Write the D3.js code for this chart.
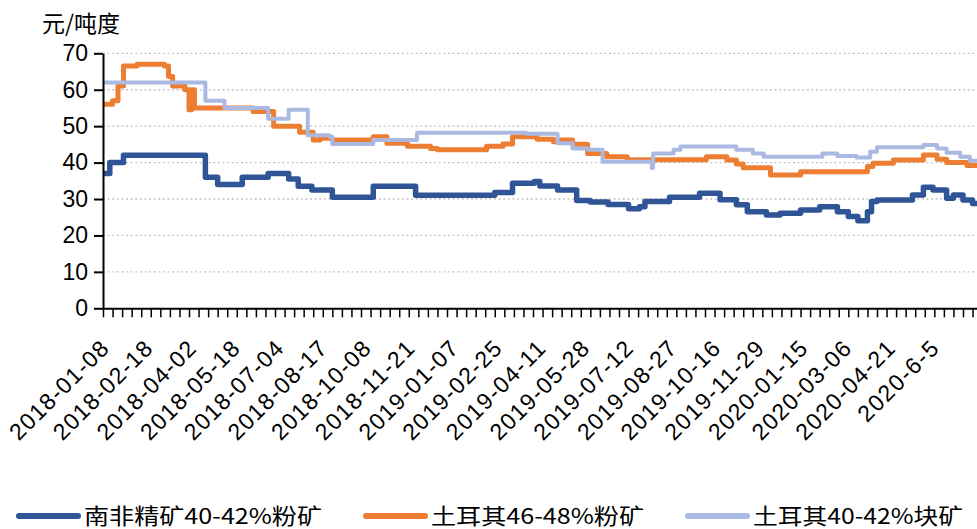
<!DOCTYPE html>
<html>
<head>
<meta charset="utf-8">
<script src="https://cdn.jsdelivr.net/npm/d3@7/dist/d3.min.js"></script>
<style>
  body { margin: 0; background: #fff; }
  svg { display: block; }
  .tick text { font-family: "Liberation Sans", Arial, sans-serif; }
</style>
</head>
<body>
<svg></svg>
<script>
// category axis: one category per trading day
var categoryCount = 641;
var labelEvery = 32;
var tickEvery = 7;

var xLabels = ['2018-01-08', '2018-02-18', '2018-04-02', '2018-05-18', '2018-07-04',
  '2018-08-17', '2018-10-08', '2018-11-21', '2019-01-07', '2019-02-25',
  '2019-04-11', '2019-05-28', '2019-07-12', '2019-08-27', '2019-10-16',
  '2019-11-29', '2020-01-15', '2020-03-06', '2020-04-21', '2020-6-5'];

var yTicks = [0, 10, 20, 30, 40, 50, 60, 70];

var seriesNames = ['南非精矿40-42%粉矿', '土耳其46-48%粉矿', '土耳其40-42%块矿'];
var seriesColors = ['#2f5597', '#ed7d31', '#a9b9e2'];

// [category index, price] at each price change
var southAfricaFines = [[0, 37], [5, 40], [15, 42], [75, 36], [84, 34], [102, 36], [121, 37],
  [136, 35.5], [143, 33.5], [153, 32.5], [168, 30.5], [198, 33.5], [229, 31], [287, 31.8],
  [300, 34.3], [316, 34.8], [320, 33.6], [333, 32.5], [347, 29.6], [357, 29.2], [370, 28.5],
  [385, 27.3], [393, 27.9], [397, 29.3], [415, 30.5], [437, 31.6], [452, 29.8], [464, 28.4],
  [472, 26.5], [486, 25.6], [496, 26.1], [511, 27], [525, 27.9], [538, 26.5], [546, 25.2],
  [553, 24], [560, 26.5], [563, 29.3], [567, 29.7], [593, 31.1], [601, 33.2], [608, 32.5],
  [618, 30.2], [623, 31.1], [630, 29.7], [637, 28.8], [641, 28.8]];

var turkeyFines = [[0, 56], [7, 57], [11, 61], [15, 66.5], [25, 67], [45, 66.5], [48, 63.6],
  [51, 61], [60, 60], [63, 54.5], [65, 60], [67, 55], [110, 54], [125, 50], [144, 48.3],
  [154, 46.2], [159, 46.7], [168, 46.2], [198, 47.1], [208, 45.3], [223, 44.5], [240, 43.9],
  [245, 43.5], [281, 44.5], [293, 45.1], [300, 47.1], [318, 46.4], [330, 45.7], [335, 46.2],
  [344, 45], [355, 42.5], [369, 41.6], [384, 40.8], [442, 41.6], [457, 40.7], [464, 39.6],
  [469, 38.6], [489, 36.6], [511, 37.5], [560, 38.9], [564, 39.8], [579, 40.7], [601, 42.1],
  [611, 40.9], [618, 40], [633, 39.2], [641, 39.2]];

var turkeyLump = [[0, 62], [75, 57], [89, 55], [121, 52], [136, 54.5], [150, 47.5], [166, 47.1],
  [168, 45.1], [198, 46.2], [230, 48.2], [310, 47.9], [333, 45.3], [344, 43.9], [355, 43.5],
  [366, 40.2], [402, 38.5], [403, 42.5], [418, 43.5], [423, 44.4], [464, 43.5], [476, 42.5],
  [484, 41.6], [527, 42.5], [538, 41.8], [552, 41.4], [562, 43], [567, 44.2], [601, 44.8],
  [611, 43.9], [618, 42.7], [628, 41.6], [635, 40.5], [641, 40.5]];

var allSeries = [southAfricaFines, turkeyFines, turkeyLump];
var lineWidths = [5.5, 5, 4];

var width = 977;
var height = 529;
var plotLeft = 103, plotRight = 978, plotTop = 53.3, plotBottom = 308.3;

var svg = d3.select('svg')
  .attr('width', width)
  .attr('height', height);

var x = d3.scaleLinear()
  .domain([0, categoryCount])
  .range([plotLeft, plotRight]);

var y = d3.scaleLinear()
  .domain([0, 70])
  .range([plotBottom, plotTop]);

// dotted gridlines
svg.append('g')
  .selectAll('line')
  .data(yTicks.filter(d => d > 0))
  .enter()
  .append('line')
  .attr('x1', plotLeft)
  .attr('x2', plotRight)
  .attr('y1', d => y(d))
  .attr('y2', d => y(d))
  .attr('stroke', '#c4c4c4')
  .attr('stroke-width', 1.3)
  .attr('stroke-dasharray', '2,2.6');

svg.append('clipPath')
  .attr('id', 'plot')
  .append('rect')
  .attr('x', plotLeft)
  .attr('y', 0)
  .attr('width', plotRight - plotLeft)
  .attr('height', plotBottom + 5);

var line = d3.line()
  .curve(d3.curveStepAfter)
  .x(d => x(d[0]))
  .y(d => y(d[1]));

svg.append('g')
  .attr('clip-path', 'url(#plot)')
  .selectAll('path')
  .data(allSeries)
  .enter()
  .append('path')
  .attr('fill', 'none')
  .attr('stroke', (d, i) => seriesColors[i])
  .attr('stroke-width', (d, i) => lineWidths[i])
  .attr('stroke-linejoin', 'round')
  .attr('d', line);

// y axis
var yAxis = svg.append('g')
  .attr('transform', 'translate(' + plotLeft + ',0)')
  .call(d3.axisLeft(y).tickValues(yTicks).tickSize(9).tickPadding(6).tickSizeOuter(0));
yAxis.select('.domain').attr('stroke', '#000').attr('stroke-width', 2);
yAxis.selectAll('.tick line').attr('stroke', '#000').attr('stroke-width', 2);
yAxis.selectAll('.tick text')
  .attr('fill', '#000')
  .style('font-size', '23px');

// x axis: tick marks every few categories
var xAxis = svg.append('g')
  .attr('transform', 'translate(0,' + plotBottom + ')')
  .call(d3.axisBottom(x)
    .tickValues(d3.range(0, categoryCount + 1, tickEvery))
    .tickFormat('')
    .tickSize(9)
    .tickSizeOuter(0));
xAxis.select('.domain').attr('stroke', '#000').attr('stroke-width', 2);
xAxis.selectAll('.tick line').attr('stroke', '#000').attr('stroke-width', 1.5);

// rotated date labels
svg.append('g')
  .selectAll('text')
  .data(xLabels)
  .enter()
  .append('text')
  .attr('transform', (d, i) => 'translate(' + (x(i * labelEvery) + 7) + ',' + (plotBottom + 42) + ') rotate(-45)')
  .attr('text-anchor', 'end')
  .style('font-family', '"Liberation Sans", Arial, sans-serif')
  .style('font-size', '23px')
  .attr('textLength', d => d.length * 12.9)
  .attr('lengthAdjust', 'spacing')
  .attr('fill', '#000')
  .text(d => d);

// unit label
svg.append('text')
  .attr('x', 42)
  .attr('y', 32)
  .style('font-family', '"Noto Sans CJK SC", sans-serif')
  .style('font-size', '23px')
  .attr('fill', '#000')
  .text('元/吨度');

// legend
var legendX = [19, 366, 688];
var legendTextW = [238, 213, 210];
var legend = svg.append('g')
  .selectAll('g')
  .data(seriesNames)
  .enter()
  .append('g')
  .attr('transform', (d, i) => 'translate(' + legendX[i] + ',516)');

legend.append('line')
  .attr('x1', 0)
  .attr('x2', 59)
  .attr('stroke', (d, i) => seriesColors[i])
  .attr('stroke-width', 6)
  .attr('stroke-linecap', 'round');

legend.append('text')
  .attr('x', 65)
  .attr('y', 8)
  .attr('textLength', (d, i) => legendTextW[i])
  .attr('lengthAdjust', 'spacingAndGlyphs')
  .style('font-family', '"Noto Sans CJK SC", sans-serif')
  .style('font-size', '22px')
  .attr('fill', '#000')
  .text(d => d);
</script>
</body>
</html>
